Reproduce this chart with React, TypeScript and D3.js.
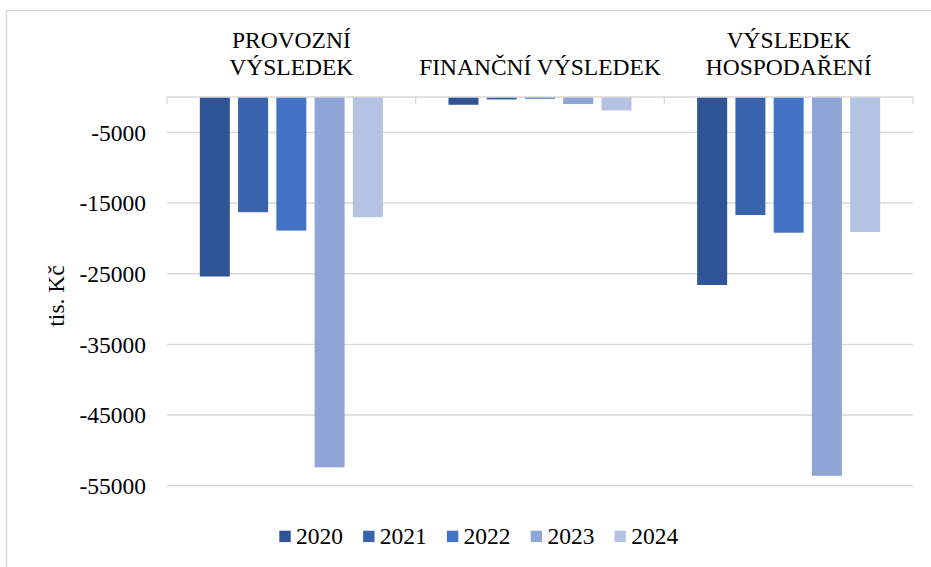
import React from "react";
import * as d3 from "d3";

const categories: string[][] = [
  ["PROVOZNÍ", "VÝSLEDEK"],
  ["FINANČNÍ VÝSLEDEK"],
  ["VÝSLEDEK", "HOSPODAŘENÍ"],
];
const years = ["2020", "2021", "2022", "2023", "2024"];
const values2020 = [-25400, -1100, -26600];
const values2021 = [-16300, -350, -16700];
const values2022 = [-18900, -250, -19200];
const values2023 = [-52400, -1000, -53600];
const values2024 = [-17000, -1900, -19100];
const seriesValues = [values2020, values2021, values2022, values2023, values2024];
const colors = ["#2F5597", "#3A63AD", "#4472C4", "#8FA5D6", "#B4C3E4"];
const tickValues = [-5000, -15000, -25000, -35000, -45000, -55000];

const FONT = '"Liberation Serif"';
const textStyle: React.CSSProperties = { fontFamily: FONT, fontSize: "23.5px" };

export default function App() {
  const W = 931;
  const H = 567;
  const left = 167;
  const right = 913;
  const top = 97;
  const bottom = 485.7;

  const x = d3
    .scaleBand<number>()
    .domain(d3.range(categories.length))
    .range([left, right])
    .paddingInner(0)
    .paddingOuter(0);
  const xi = d3
    .scaleBand<string>()
    .domain(years)
    .range([0, x.bandwidth()])
    .paddingInner(0.2157)
    .paddingOuter(0.858);
  const y = d3.scaleLinear().domain([0, -55000]).range([top, bottom]);

  const boundaries = d3.range(categories.length + 1).map((i) =>
    i < categories.length ? (x(i) as number) : right
  );

  return (
    <svg
      width={W}
      height={H}
      style={{ position: "absolute", left: 0, top: 0, background: "#fff", fontFamily: FONT }}
    >
      <rect x={0} y={0} width={W} height={H} fill="#fff" />
      <rect x={6.5} y={10.5} width={1000} height={1000} fill="none" stroke="#d9d9d9" strokeWidth={1.5} />

      {tickValues.map((t) => (
        <line key={t} x1={left} x2={right} y1={y(t)} y2={y(t)} stroke="#d9d9d9" strokeWidth={1.4} />
      ))}

      {categories.map((_, ci) =>
        years.map((yr, si) => {
          const v = seriesValues[si][ci];
          const bx = (x(ci) as number) + (xi(yr) as number);
          return (
            <rect
              key={ci + "-" + yr}
              x={bx}
              y={y(0)}
              width={xi.bandwidth()}
              height={y(v) - y(0)}
              fill={colors[si]}
            />
          );
        })
      )}

      <line x1={left} x2={right} y1={y(0)} y2={y(0)} stroke="#d9d9d9" strokeWidth={1.4} />
      {boundaries.map((bx, i) => (
        <line key={"tk" + i} x1={bx} x2={bx} y1={y(0)} y2={y(0) + 7} stroke="#d9d9d9" strokeWidth={1.4} />
      ))}

      {tickValues.map((t) => (
        <text key={"l" + t} x={146} y={y(t)} dy="0.35em" textAnchor="end" style={textStyle} fill="#000">
          {t}
        </text>
      ))}

      <text transform={`translate(64,296) rotate(-90)`} textAnchor="middle" style={textStyle} fill="#000">
        tis. Kč
      </text>

      {categories.map((lines, ci) => {
        const cx = (x(ci) as number) + x.bandwidth() / 2;
        const n = lines.length;
        return lines.map((ln, li) => (
          <text
            key={"c" + ci + li}
            x={cx}
            y={75 - (n - 1 - li) * 26.7}
            textAnchor="middle"
            style={textStyle}
            fill="#000"
          >
            {ln}
          </text>
        ));
      })}

      {years.map((yr, i) => {
        const lx = 279.3 + i * 83.8;
        return (
          <g key={"lg" + yr}>
            <rect x={lx} y={530.7} width={11.4} height={11.4} fill={colors[i]} />
            <text x={lx + 16.7} y={544} style={textStyle} fill="#000">
              {yr}
            </text>
          </g>
        );
      })}
    </svg>
  );
}
